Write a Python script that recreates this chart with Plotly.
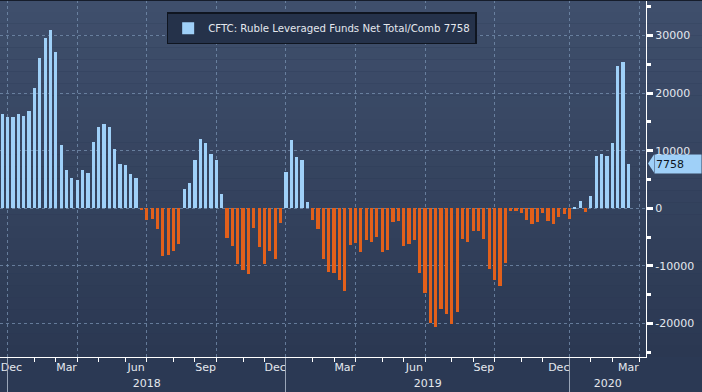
import math
import pandas as pd
import plotly.graph_objects as go

# ---------------- data ----------------
SERIES_NAME = "CFTC: Ruble Leveraged Funds Net Total/Comb"
report_dates = pd.date_range("2017-12-26", periods=118, freq="7D")  # weekly CFTC reports

net_2018_h1 = [16400, 15890, 15890, 16350, 16060, 16930, 20930, 26150, 29620, 31010,
               27190, 11010, 6670, 5280, 4930, 6670, 6140, 11540, 14140, 14670,
               14140, 10320, 7710, 7540, 5970, 5280]
net_2018_summer = [-200, -2020, -1850, -3580, -8270, -8090, -7400, -6180]
net_2018_autumn = [3350, 4390, 8380, 12020, 11330, 9420, 8380, 2490]
net_2018_q4 = [-5090, -6470, -9590, -10640, -11330, -3410, -6700, -9590, -7400, -8790, -2540]
net_2019_jan = [6300, 11850, 8900, 8380, 1100]
net_2019_h1 = [-2020, -3580, -8790, -11040, -11210, -12430, -14330, -6360, -6010, -7570,
               -5490, -5840, -4970, -7570, -7230]
net_2019_mid = [-2370, -2200, -6530, -6180, -5490, -11210, -14680, -19880, -20580, -17460,
                -18320, -20060, -17980, -5320, -5840, -3930, -3930, -5320, -10520, -12430,
                -13470, -9480, -460, -460]
net_2019_end = [-810, -2020, -2720, -2370, -900, -2200, -2720, -1500, -980, -1850,
                200, 1270, -640]
net_2020 = [2140, 9100, 9450, 9100, 11360, 24750, 25450, 7758]

net_values = (net_2018_h1 + net_2018_summer + net_2018_autumn + net_2018_q4 + net_2019_jan
              + net_2019_h1 + net_2019_mid + net_2019_end + net_2020)

month_names = ["Jan", "Feb", "Mar", "Apr", "May", "Jun",
               "Jul", "Aug", "Sep", "Oct", "Nov", "Dec"]
y_ticks = [-20000, -10000, 0, 10000, 20000, 30000]
y_range = [-25816, 36163]

# ---------------- colours / styling ----------------
BLUE = "#9fd0f8"
ORANGE = "#e2601b"
TEXT = "#e4e8ee"
GRID = "rgba(120,145,178,0.75)"
FONT = "DejaVu Sans"

# bar positions: one slot per weekly report (Bloomberg spaces by observation)
pos = list(range(len(report_dates)))
start = report_dates[0]


def slot_of(ts):
    """first report slot on/after a calendar date"""
    return math.ceil((ts - start).days / 7)


month_starts = pd.date_range("2018-01-01", "2020-04-01", freq="MS")
month_ticks = [slot_of(m) for m in month_starts]
quarter_starts = [m for m in month_starts if m.month in (1, 4, 7, 10)]
quarter_ticks = [slot_of(m) for m in quarter_starts]
x_range = [-0.43, 120.3]

# month label = month ending at each quarter line, drawn just left of it
label_pos = [max(q - 2, 1.7) for q in quarter_ticks]
label_txt = [month_names[(m.month - 2) % 12] for m in quarter_starts]
year_bounds = [slot_of(pd.Timestamp(f"{y}-01-01")) for y in (2018, 2019, 2020)]
year_edges = year_bounds + [x_range[1]]
year_pos = [(year_edges[i] + year_edges[i + 1]) / 2 for i in range(3)]
year_txt = ["2018", "2019", "2020"]

colors = [BLUE if v >= 0 else ORANGE for v in net_values]

fig = go.Figure()
fig.add_trace(go.Bar(
    x=pos, y=net_values, width=0.6,
    marker=dict(color=colors, line=dict(width=0)),
    name=f"{SERIES_NAME} {net_values[-1]}",
    customdata=[d.strftime("%Y-%m-%d") for d in report_dates],
    hovertemplate="%{customdata}: %{y}<extra></extra>",
    showlegend=True,
))
# empty helper traces so the overlay axes (grid, labels, separators) get drawn
for ax in ("x2", "x3", "x4", "x5"):
    fig.add_trace(go.Scatter(x=[], y=[], xaxis=ax, yaxis="y", showlegend=False,
                             hoverinfo="skip", mode="markers"))

# background gradient bands
shapes = []
n_bands = 30
top_c = (63, 79, 108)
bot_c = (43, 56, 82)
for i in range(n_bands):
    t = i / (n_bands - 1)
    c = tuple(round(top_c[k] + (bot_c[k] - top_c[k]) * t) for k in range(3))
    shapes.append(dict(type="rect", xref="paper", yref="paper",
                       x0=0, x1=1.1, y0=1 - (i + 1) / n_bands, y1=1 - i / n_bands,
                       fillcolor=f"rgb{c}", line=dict(width=0), layer="below"))
shapes.append(dict(type="line", xref="paper", yref="paper", x0=0, x1=1.1, y0=1, y1=1,
                   line=dict(color="#161d2b", width=2)))
# last value tag pointer
shapes.append(dict(type="path", xref="paper", yref="y", xsizemode="pixel", ysizemode="pixel",
                   xanchor=1, yanchor=net_values[-1],
                   path="M 2,0 L 8,9 L 8,-9 Z", fillcolor=BLUE, line=dict(width=0)))

common_x = dict(range=x_range, zeroline=False, fixedrange=True, automargin=False)

fig.update_layout(
    width=702, height=392,
    margin=dict(l=0, r=56, t=0, b=35, autoexpand=False),
    paper_bgcolor="#2b3954",
    plot_bgcolor="rgba(0,0,0,0)",
    font=dict(family=FONT, color=TEXT, size=11),
    bargap=0,
    shapes=shapes,
    showlegend=True,
    legend=dict(x=0.258, y=0.966, xanchor="left", yanchor="top",
                bgcolor="#25324a", bordercolor="#0f1520", borderwidth=1.5,
                font=dict(family=FONT, size=10.2, color=TEXT),
                itemclick=False, itemdoubleclick=False),
    xaxis=dict(**common_x, tickvals=month_ticks, ticks="outside", ticklen=4,
               tickcolor="white", showticklabels=False, showgrid=False,
               showline=True, linecolor="white", linewidth=1),
    xaxis2=dict(**common_x, overlaying="x", anchor="y", side="bottom",
                tickvals=quarter_ticks, showgrid=True, griddash="dot",
                gridcolor=GRID, gridwidth=1, ticks="", showticklabels=False, showline=False),
    xaxis3=dict(**common_x, overlaying="x", anchor="y", side="bottom",
                tickvals=label_pos, ticktext=label_txt, showgrid=False, ticks="",
                showline=False, tickfont=dict(family=FONT, size=11, color=TEXT),
                ticklabelstandoff=2, ticklabeloverflow="allow"),
    xaxis4=dict(**common_x, overlaying="x", anchor="y", side="bottom",
                tickvals=year_pos, ticktext=year_txt, showgrid=False, ticks="",
                showline=False, tickfont=dict(family=FONT, size=11, color=TEXT),
                ticklabelstandoff=18, ticklabeloverflow="allow"),
    xaxis5=dict(**common_x, overlaying="x", anchor="y", side="bottom",
                tickvals=year_bounds, showgrid=False, ticks="outside", ticklen=36,
                tickcolor="#9aa6b8", tickwidth=1, showticklabels=False, showline=False),
    yaxis=dict(range=y_range, side="right", tickvals=y_ticks,
               ticktext=[str(v) for v in y_ticks],
               ticks="outside", ticklen=6, tickwidth=3, tickcolor="white",
               showline=True, linecolor="white", linewidth=1,
               showgrid=True, griddash="dot", gridcolor=GRID, gridwidth=1,
               zeroline=False, fixedrange=True, automargin=False,
               minor=dict(dtick=5000, tick0=0, ticks="outside", ticklen=4,
                          tickcolor="white", showgrid=False),
               tickfont=dict(family=FONT, size=11, color=TEXT)),
    annotations=[dict(xref="paper", yref="y", x=1, y=net_values[-1],
                      xanchor="left", yanchor="middle", xshift=8,
                      text=f"{net_values[-1]}", showarrow=False, align="left",
                      width=44, height=16, bgcolor=BLUE, borderpad=1,
                      font=dict(family=FONT, size=11, color="#0c1420"))],
)

# the page's default 8px body margin would push the figure off the 702x392 window
fig.write_html("out.html",
               config={"displayModeBar": False},
               post_script="document.body.style.margin='0';document.body.style.overflow='hidden';")
